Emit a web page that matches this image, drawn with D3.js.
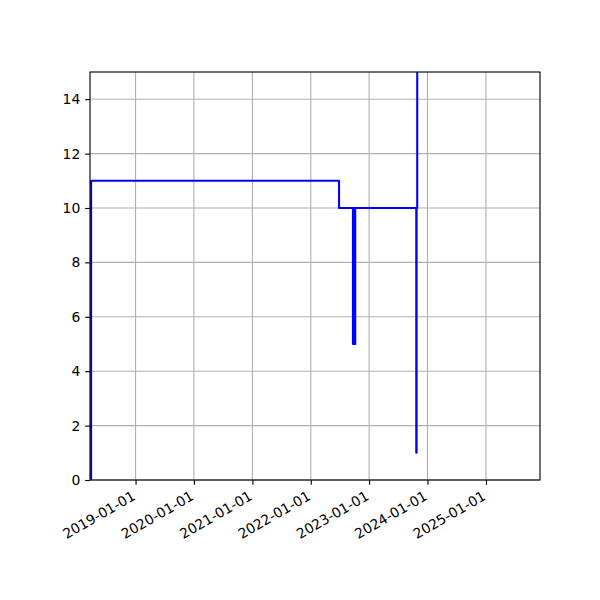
<!DOCTYPE html>
<html>
<head>
<meta charset="utf-8">
<script src="https://cdn.jsdelivr.net/npm/d3@7"></script>
<style>
  html, body { margin: 0; padding: 0; background: #fff; }
  svg text { font-family: "DejaVu Sans", sans-serif; }
</style>
</head>
<body>
<div id="chart"></div>
<script>
// step series
const dates = [
  "2018-03-27", "2018-03-29", "2022-06-27",
  "2022-09-22", "2022-09-24", "2022-09-26", "2022-09-28", "2022-09-30",
  "2022-10-02", "2022-10-04", "2022-10-06",
  "2023-10-23", "2023-10-25", "2023-10-29", "2023-12-31"
]
const values = [
  0, 11, 10,
  5, 10, 5, 10, 5,
  10, 5, 10,
  1, 10, 20, 20
]
const xDomain = ["2018-03-22", "2025-12-05"]
const yDomain = [0, 15]
const xTickLabels = ["2019-01-01", "2020-01-01", "2021-01-01", "2022-01-01", "2023-01-01", "2024-01-01", "2025-01-01"]
const yTickValues = [0, 2, 4, 6, 8, 10, 12, 14]

const width = 600
const height = 600
const margin = { top: 72, right: 60, bottom: 120, left: 90 }
const innerW = width - margin.left - margin.right
const innerH = height - margin.top - margin.bottom

const parse = d3.utcParse("%Y-%m-%d")
const points = dates.map((d, i) => ({ date: parse(d), value: values[i] }))

const x = d3.scaleUtc().domain(xDomain.map(parse)).range([0, innerW])
const y = d3.scaleLinear().domain(yDomain).range([innerH, 0])

const svg = d3.select("#chart")
  .append("svg")
  .attr("width", width)
  .attr("height", height)

const g = svg.append("g")
  .attr("transform", `translate(${margin.left},${margin.top})`)

g.append("clipPath")
  .attr("id", "clip")
  .append("rect")
  .attr("width", innerW)
  .attr("height", innerH)

// grid
g.append("g")
  .selectAll("line")
  .data(xTickLabels.map(parse))
  .join("line")
  .attr("x1", d => x(d)).attr("x2", d => x(d))
  .attr("y1", 0).attr("y2", innerH)
  .attr("stroke", "#b0b0b0")
  .attr("stroke-width", 1.11)

g.append("g")
  .selectAll("line")
  .data(yTickValues)
  .join("line")
  .attr("x1", 0).attr("x2", innerW)
  .attr("y1", d => y(d)).attr("y2", d => y(d))
  .attr("stroke", "#b0b0b0")
  .attr("stroke-width", 1.11)

// line
const line = d3.line()
  .x(d => x(d.date))
  .y(d => y(d.value))
  .curve(d3.curveStepAfter)

g.append("path")
  .datum(points)
  .attr("clip-path", "url(#clip)")
  .attr("fill", "none")
  .attr("stroke", "#0000ff")
  .attr("stroke-width", 2.08)
  .attr("stroke-linejoin", "round")
  .attr("stroke-linecap", "square")
  .attr("d", line)

// axes
const xAxis = g.append("g")
  .attr("transform", `translate(0,${innerH})`)
  .call(
    d3.axisBottom(x)
      .tickValues(xTickLabels.map(parse))
      .tickSize(4.86)
      .tickPadding(4.86)
      .tickFormat(d3.utcFormat("%Y-%m-%d"))
  )
xAxis.select(".domain").remove()
xAxis.selectAll(".tick line").attr("stroke", "#000").attr("stroke-width", 1.11)
// rotated like autofmt_xdate: right aligned, 30 degrees
xAxis.selectAll(".tick text")
  .attr("fill", "#000")
  .style("font-size", "13.9px")
  .attr("text-anchor", "end")
  .attr("x", 0)
  .attr("y", 0)
  .attr("dy", "0.76em")
  .attr("transform", "translate(-5,9.7) rotate(-30)")

const yAxis = g.append("g")
  .call(
    d3.axisLeft(y)
      .tickValues(yTickValues)
      .tickSize(4.86)
      .tickPadding(4.86)
  )
yAxis.select(".domain").remove()
yAxis.selectAll(".tick line").attr("stroke", "#000").attr("stroke-width", 1.11)
yAxis.selectAll(".tick text")
  .attr("fill", "#000")
  .style("font-size", "13.9px")

// spines
g.append("rect")
  .attr("width", innerW)
  .attr("height", innerH)
  .attr("fill", "none")
  .attr("stroke", "#000")
  .attr("stroke-width", 1.11)
</script>
</body>
</html>
